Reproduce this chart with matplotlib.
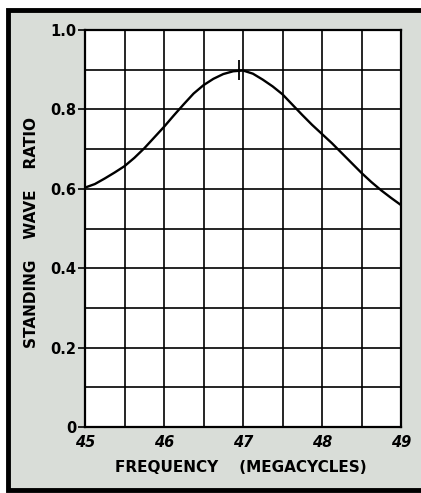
import matplotlib
matplotlib.use('Agg')
import matplotlib.pyplot as plt
from matplotlib.patches import Rectangle

# standing wave ratio of the antenna across the band
freq = [45.0, 45.125, 45.25, 45.375, 45.5, 45.625, 45.75, 45.875, 46.0,
        46.125, 46.25, 46.375, 46.5, 46.625, 46.75, 46.875, 47.0,
        47.125, 47.25, 47.375, 47.5, 47.625, 47.75, 47.875, 48.0,
        48.125, 48.25, 48.375, 48.5, 48.625, 48.75, 48.875, 49.0]
swr = [0.603, 0.612, 0.626, 0.641, 0.657, 0.678, 0.702, 0.729, 0.756,
       0.785, 0.813, 0.840, 0.861, 0.877, 0.889, 0.896, 0.898,
       0.890, 0.875, 0.858, 0.838, 0.812, 0.786, 0.761, 0.738,
       0.715, 0.690, 0.665, 0.640, 0.617, 0.596, 0.577, 0.559]
peak_freq = 46.95
peak_swr = 0.9

x_ticks = [45, 46, 47, 48, 49]
y_ticks = [0, 0.2, 0.4, 0.6, 0.8, 1.0]
y_ticklabels = ['0', '0.2', '0.4', '0.6', '0.8', '1.0']

fig = plt.figure(figsize=(4.21, 4.93), dpi=100)
fig.patch.set_facecolor('white')

# grey page with the black frame
W, H = 421.0, 493.0
fig.patches.append(Rectangle((7.5 / W, 3.5 / H), 1.0, 480 / H,
                             transform=fig.transFigure, facecolor='#d9ddd8',
                             edgecolor='black', lw=3.5, zorder=-5))

ax = fig.add_axes([85 / W, 1 - 427 / H, 316 / W, 397 / H])
ax.set_zorder(2)
ax.set_facecolor('white')
ax.set_xlim(45, 49)
ax.set_ylim(0, 1.0)

ax.set_xticks(x_ticks)
ax.set_xticks([45 + 0.5 * i for i in range(9)], minor=True)
ax.set_yticks(y_ticks)
ax.set_yticklabels(y_ticklabels)
ax.set_yticks([0.1 * i for i in range(11)], minor=True)
ax.grid(which='both', color='black', lw=1.2)
ax.set_axisbelow(True)

ax.tick_params(axis='x', which='both', length=0, pad=6)
ax.tick_params(axis='y', which='major', length=5, width=1.2, pad=1)
ax.tick_params(axis='y', which='minor', length=0)
for lab in ax.get_xticklabels():
    lab.set_fontweight('bold')
    lab.set_fontstyle('italic')
    lab.set_fontsize(10.5)
for lab in ax.get_yticklabels():
    lab.set_fontweight('bold')
    lab.set_fontsize(10.5)

for s in ax.spines.values():
    s.set_linewidth(1.6)

ax.plot(freq, swr, color='black', lw=1.7, solid_joinstyle='round',
        solid_capstyle='round', zorder=3)
ax.plot([peak_freq], [peak_swr], marker='|', markersize=14, mew=1.3,
        color='black', zorder=4)

fig.text(32 / W, 1 - 232 / H, 'STANDING    WAVE    RATIO', rotation=90,
         ha='center', va='center', fontsize=11, fontweight='bold', zorder=3)
fig.text(241 / W, 1 - 467 / H, 'FREQUENCY    (MEGACYCLES)',
         ha='center', va='center', fontsize=11, fontweight='bold', zorder=3)

plt.savefig('out.png', dpi=100)
